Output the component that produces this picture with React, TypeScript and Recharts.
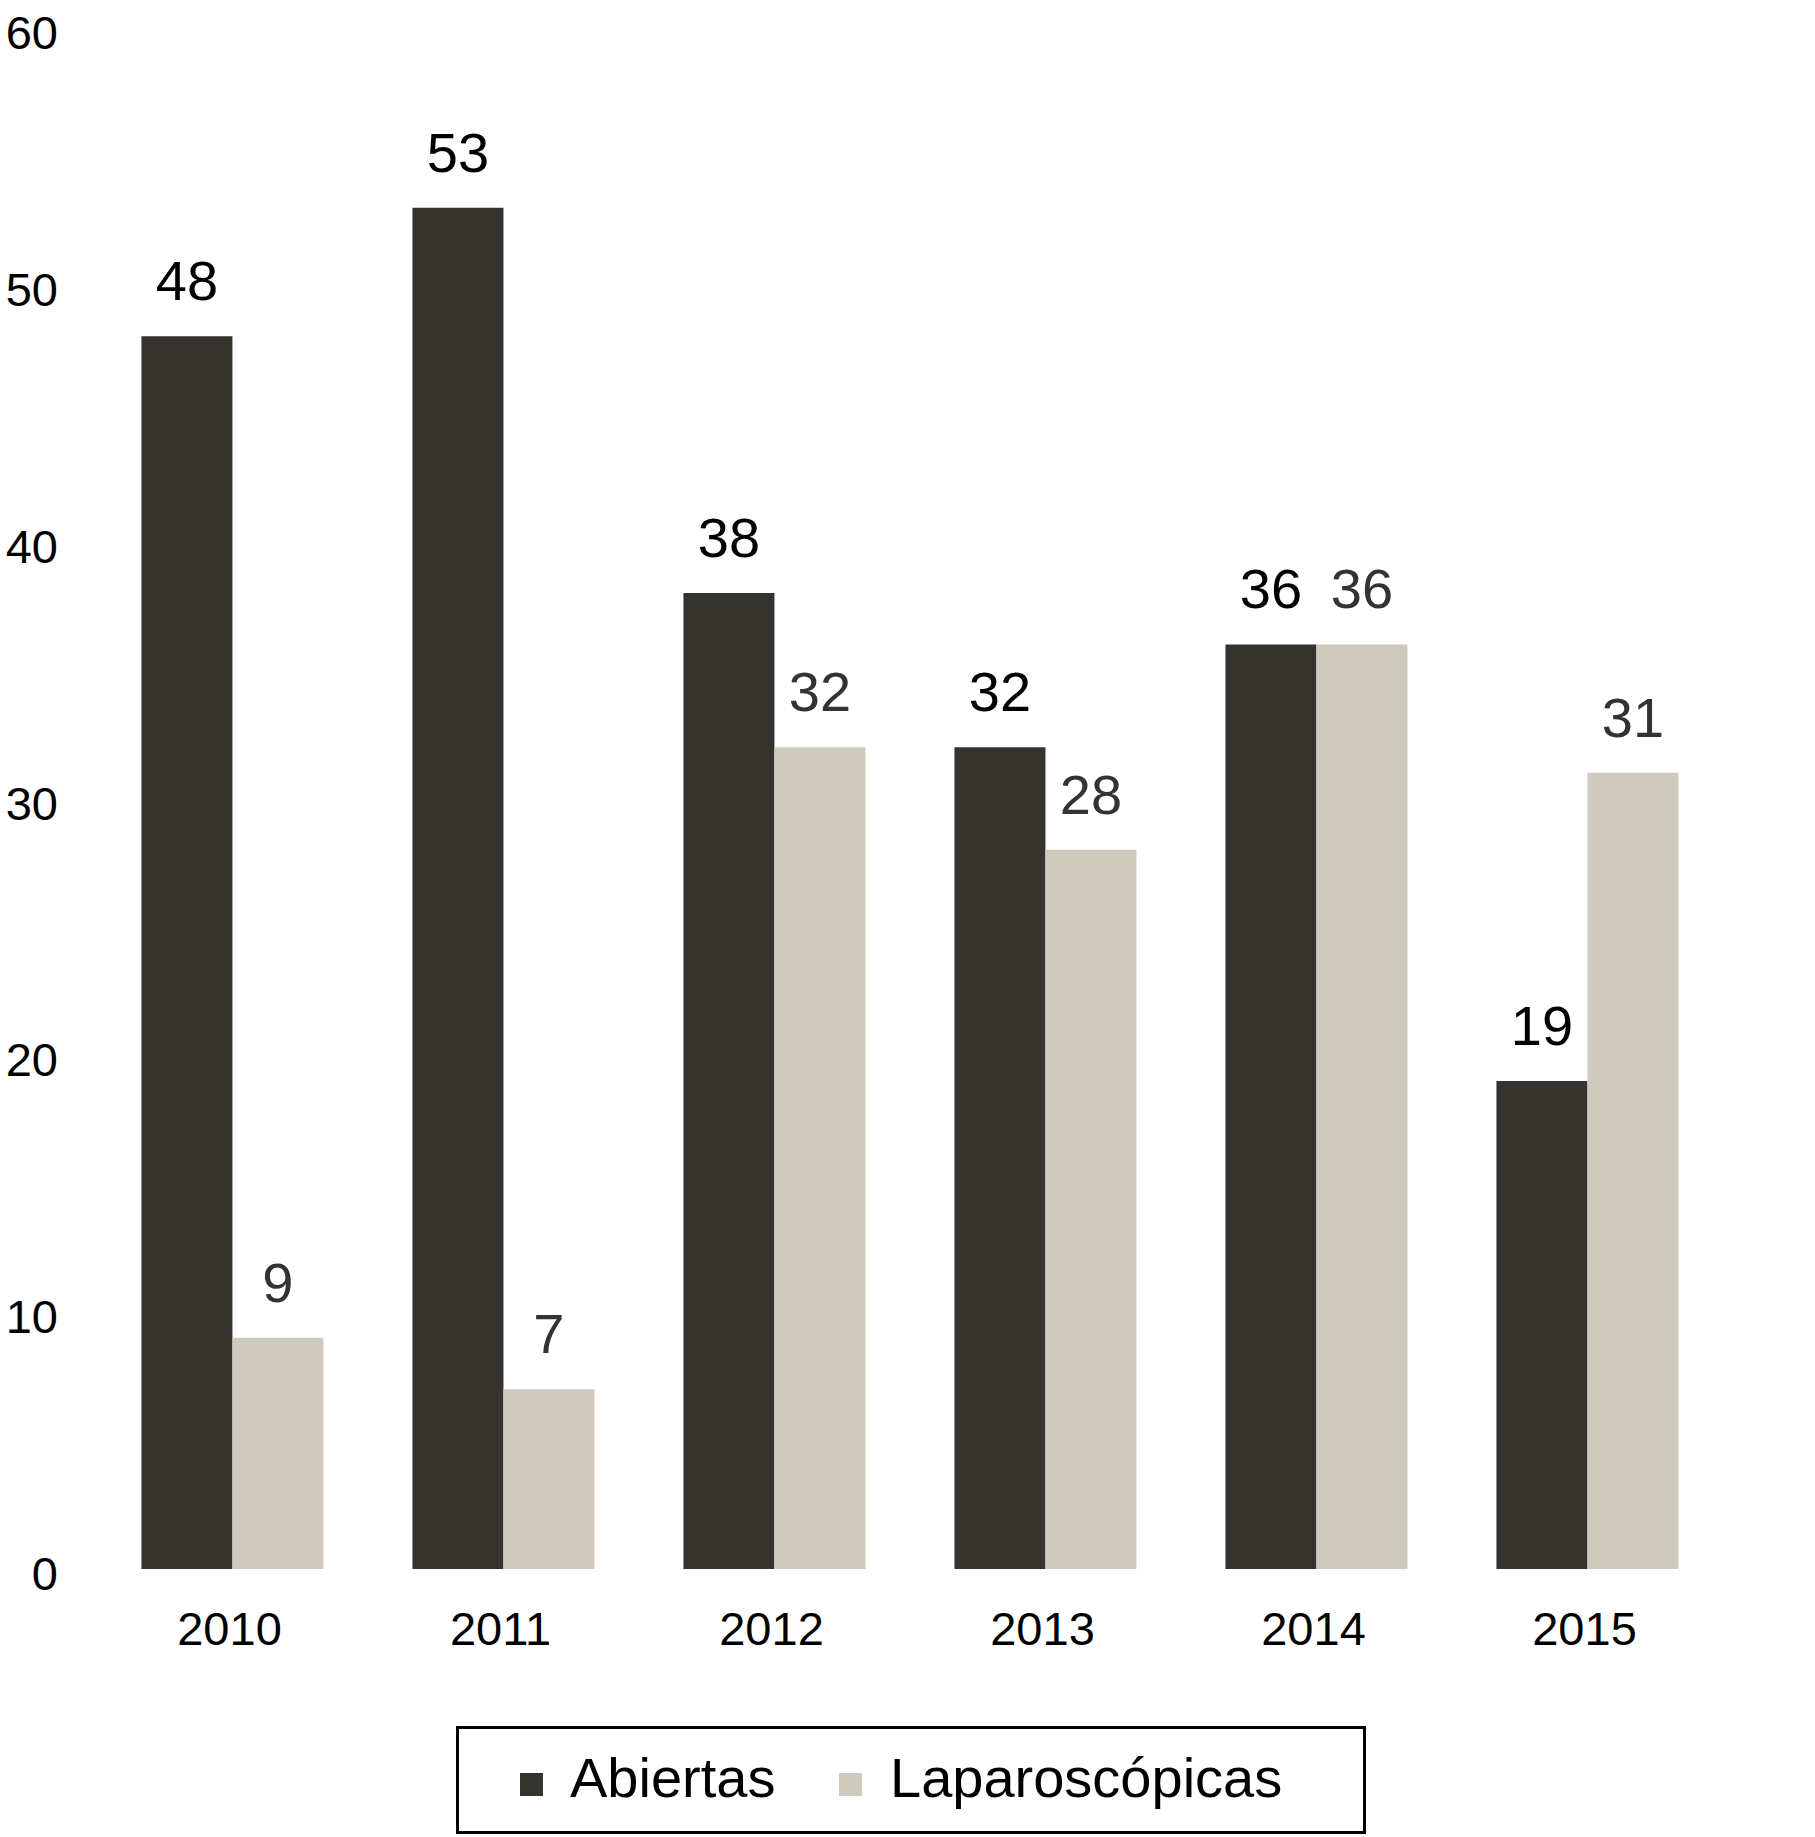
import { Bar, BarChart, LabelList, Legend, XAxis, YAxis } from "recharts";

const YEARS = ["2010", "2011", "2012", "2013", "2014", "2015"];
const ABIERTAS = [48, 53, 38, 32, 36, 19];
const LAPAROSCOPICAS = [9, 7, 32, 28, 36, 31];
const Y_TICKS = [0, 10, 20, 30, 40, 50, 60];

const DARK = "#34332e";
const LIGHT = "#cfcabe";
const FONT = "'Liberation Sans', Arial, sans-serif";

const data = YEARS.map((year, i) => ({
  year,
  abiertas: ABIERTAS[i],
  laparoscopicas: LAPAROSCOPICAS[i],
}));

function YTick(props: any) {
  const { x, y, payload } = props;
  return (
    <text x={x} y={y + 21} textAnchor="end" fontSize={47} fontFamily={FONT} fill="#000">
      {payload.value}
    </text>
  );
}

function XTick(props: any) {
  const { x, y, payload } = props;
  return (
    <text x={x - 3} y={y + 76} textAnchor="middle" fontSize={47} fontFamily={FONT} fill="#000">
      {payload.value}
    </text>
  );
}

function LegendBox(props: any) {
  const items = props.payload || [];
  const squareLeft = [61, 380];
  const textLeft = [111, 431];
  return (
    <div
      style={{
        position: "relative",
        width: 910,
        height: 108,
        border: "3px solid #000",
        boxSizing: "border-box",
        background: "#fff",
        fontFamily: FONT,
      }}
    >
      {items.map((item: any, i: number) => (
        <div key={item.value}>
          <div
            style={{
              position: "absolute",
              left: squareLeft[i],
              top: 44,
              width: 23,
              height: 23,
              background: item.color,
            }}
          />
          <span
            style={{
              position: "absolute",
              left: textLeft[i],
              top: 21,
              fontSize: 56,
              lineHeight: "56px",
              color: "#000",
              whiteSpace: "nowrap",
            }}
          >
            {item.value}
          </span>
        </div>
      ))}
    </div>
  );
}

export default function App() {
  return (
    <div style={{ position: "absolute", left: 0, top: 0, background: "#fff" }}>
      <BarChart
        width={1815}
        height={1837}
        data={data}
        margin={{ top: 28, right: 92, left: 0, bottom: 168 }}
        barGap={0}
        barCategoryGap="16.4%"
      >
        <XAxis
          dataKey="year"
          axisLine={false}
          tickLine={false}
          tickSize={0}
          tickMargin={0}
          height={100}
          tick={<XTick />}
        />
        <YAxis
          domain={[0, 60]}
          ticks={Y_TICKS}
          axisLine={false}
          tickLine={false}
          tickSize={0}
          tickMargin={39}
          width={97}
          tick={<YTick />}
        />
        <Legend
          layout="horizontal"
          verticalAlign="middle"
          align="center"
          wrapperStyle={{ position: "absolute", left: 456, top: 1726, width: 910, height: 108 }}
          content={<LegendBox />}
        />
        <Bar dataKey="abiertas" name="Abiertas" fill={DARK} isAnimationActive={false}>
          <LabelList dataKey="abiertas" position="top" offset={36} fontSize={56} fontFamily={FONT} fill="#000" />
        </Bar>
        <Bar dataKey="laparoscopicas" name="Laparoscópicas" fill={LIGHT} isAnimationActive={false}>
          <LabelList dataKey="laparoscopicas" position="top" offset={36} fontSize={56} fontFamily={FONT} fill="#333" />
        </Bar>
      </BarChart>
    </div>
  );
}
